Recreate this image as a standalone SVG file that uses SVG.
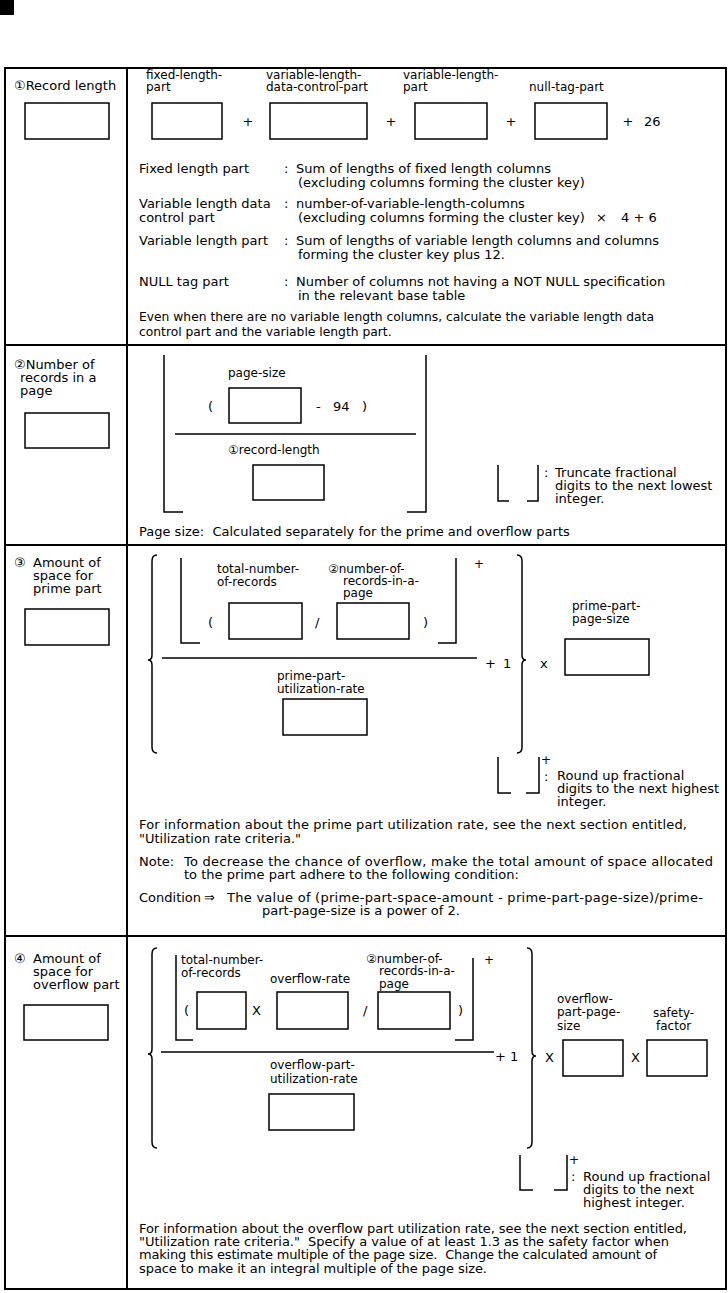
<svg xmlns="http://www.w3.org/2000/svg" width="728" height="1293" viewBox="0 0 728 1293">
<style>
text{font-family:"DejaVu Sans","Liberation Sans","Noto Sans CJK JP",sans-serif;font-size:13px;fill:#000;white-space:pre}
.s{font-size:12px}
.n{font-size:12.3px}
.bx{fill:none;stroke:#000;stroke-width:1.5}
.ln{fill:none;stroke:#000;stroke-width:1.5}
.fr{fill:none;stroke:#000;stroke-width:2}
</style>
<rect x="0" y="0" width="728" height="1293" fill="#fff"/>
<rect x="0" y="0" width="14" height="15" fill="#000"/>
<g id="table">
<rect class="fr" x="5" y="68" width="721" height="1221"/>
<line class="fr" x1="127" y1="68" x2="127" y2="1289"/>
<line class="fr" x1="5" y1="345" x2="726" y2="345"/>
<line class="fr" x1="5" y1="545" x2="726" y2="545"/>
<line class="fr" x1="5" y1="936" x2="726" y2="936"/>
</g>
<g id="sec1">
<text x="14" y="90">①Record length</text>
<rect class="bx" x="25" y="103" width="84" height="36"/>
<text class="s" x="146" y="79">fixed-length-</text>
<text class="s" x="146" y="91">part</text>
<text class="s" x="266" y="79">variable-length-</text>
<text class="s" x="266" y="91">data-control-part</text>
<text class="s" x="403" y="79">variable-length-</text>
<text class="s" x="403" y="91">part</text>
<text class="s" x="529" y="91">null-tag-part</text>
<rect class="bx" x="152" y="103" width="70" height="36"/>
<rect class="bx" x="270" y="103" width="97" height="36"/>
<rect class="bx" x="415" y="103" width="72" height="36"/>
<rect class="bx" x="535" y="103" width="72" height="36"/>
<text x="248" y="126" text-anchor="middle">+</text>
<text x="391" y="126" text-anchor="middle">+</text>
<text x="511" y="126" text-anchor="middle">+</text>
<text x="628" y="126" text-anchor="middle">+</text>
<text x="644" y="126">26</text>
<text x="139" y="173">Fixed length part</text>
<text x="284" y="173">:</text>
<text x="296" y="173">Sum of lengths of fixed length columns</text>
<text x="298" y="187">(excluding columns forming the cluster key)</text>
<text x="139" y="208">Variable length data</text>
<text x="139" y="222">control part</text>
<text x="284" y="208">:</text>
<text x="296" y="208">number-of-variable-length-columns</text>
<text x="298" y="222">(excluding columns forming the cluster key)</text>
<text x="596" y="222">×</text>
<text x="621" y="222">4 + 6</text>
<text x="139" y="245">Variable length part</text>
<text x="284" y="245">:</text>
<text x="296" y="245">Sum of lengths of variable length columns and columns</text>
<text x="298" y="259">forming the cluster key plus 12.</text>
<text x="139" y="286">NULL tag part</text>
<text x="284" y="286">:</text>
<text x="296" y="286">Number of columns not having a NOT NULL specification</text>
<text x="298" y="300">in the relevant base table</text>
<text class="n" x="139" y="321">Even when there are no variable length columns, calculate the variable length data</text>
<text class="n" x="139" y="336">control part and the variable length part.</text>
</g>
<g id="sec2">
<text x="14" y="369">②Number of</text>
<text x="20" y="382">records in a</text>
<text x="20" y="395">page</text>
<rect class="bx" x="25" y="413" width="84" height="35"/>
<path class="ln" d="M164,355 V512 H183"/>
<path class="ln" d="M407,512 H426 V355"/>
<text class="s" x="228" y="377">page-size</text>
<text x="208" y="411">(</text>
<rect class="bx" x="229" y="388" width="72" height="35"/>
<text x="316" y="411">-</text>
<text x="333" y="411">94</text>
<text x="362" y="411">)</text>
<line class="ln" x1="175" y1="434" x2="416" y2="434"/>
<text class="s" x="228" y="454">①record-length</text>
<rect class="bx" x="253" y="465" width="71" height="35"/>
<path class="ln" d="M498,465 V501 H509"/>
<path class="ln" d="M527,501 H538 V465"/>
<text x="544" y="477">:</text>
<text x="555" y="477">Truncate fractional</text>
<text x="555" y="490">digits to the next lowest</text>
<text x="555" y="503">integer.</text>
<text x="139" y="536">Page size:  Calculated separately for the prime and overflow parts</text>
</g>
<g id="sec3">
<text x="14" y="567">③</text>
<text x="33" y="567">Amount of</text>
<text x="33" y="580">space for</text>
<text x="33" y="593">prime part</text>
<rect class="bx" x="25" y="609" width="84" height="36"/>
<path class="ln" d="M157,555 Q152,555 152,561 V655 Q152,660 148,660 Q152,660 152,665 V747 Q152,753 157,753"/>
<path class="ln" d="M517,555 Q522,555 522,561 V655 Q522,660 526,660 Q522,660 522,665 V747 Q522,753 517,753"/>
<path class="ln" d="M181,558 V643 H200"/>
<path class="ln" d="M438,643 H456 V558"/>
<text class="s" x="474" y="568">+</text>
<text class="s" x="217" y="573">total-number-</text>
<text class="s" x="217" y="586">of-records</text>
<text class="s" x="328" y="573">②number-of-</text>
<text class="s" x="343" y="585">records-in-a-</text>
<text class="s" x="343" y="597">page</text>
<text x="208" y="627">(</text>
<rect class="bx" x="229" y="603" width="73" height="36"/>
<text x="315" y="627">/</text>
<rect class="bx" x="337" y="603" width="72" height="36"/>
<text x="423" y="627">)</text>
<line class="ln" x1="162" y1="658" x2="477" y2="658"/>
<text x="485" y="668">+</text>
<text x="503" y="668">1</text>
<text class="s" x="277" y="680">prime-part-</text>
<text class="s" x="277" y="693">utilization-rate</text>
<rect class="bx" x="283" y="699" width="84" height="36"/>
<text x="540" y="668">x</text>
<text class="s" x="572" y="610">prime-part-</text>
<text class="s" x="572" y="623">page-size</text>
<rect class="bx" x="565" y="639" width="84" height="36"/>
<path class="ln" d="M498,757 V793 H511"/>
<path class="ln" d="M526,793 H539 V757"/>
<text class="s" x="541" y="764">+</text>
<text x="544" y="781">:</text>
<text x="557" y="780">Round up fractional</text>
<text x="557" y="793" textLength="162">digits to the next highest</text>
<text x="557" y="806">integer.</text>
<text x="139" y="829" textLength="548">For information about the prime part utilization rate, see the next section entitled,</text>
<text x="139" y="843">"Utilization rate criteria."</text>
<text x="139" y="866">Note:</text>
<text x="184" y="866" textLength="529">To decrease the chance of overflow, make the total amount of space allocated</text>
<text x="184" y="879">to the prime part adhere to the following condition:</text>
<text x="139" y="902">Condition</text>
<text x="204" y="902">⇒</text>
<text x="227" y="902" textLength="476">The value of (prime-part-space-amount - prime-part-page-size)/prime-</text>
<text x="262" y="915">part-page-size is a power of 2.</text>
</g>
<g id="sec4">
<text x="14" y="963">④</text>
<text x="33" y="963">Amount of</text>
<text x="33" y="976">space for</text>
<text x="33" y="989">overflow part</text>
<rect class="bx" x="24" y="1005" width="84" height="35"/>
<path class="ln" d="M157,948 Q152,948 152,954 V1049 Q152,1054 148,1054 Q152,1054 152,1059 V1142 Q152,1148 157,1148"/>
<path class="ln" d="M527,948 Q532,948 532,954 V1051 Q532,1056 536,1056 Q532,1056 532,1061 V1142 Q532,1148 527,1148"/>
<path class="ln" d="M176,955 V1040 H193"/>
<path class="ln" d="M455,1040 H473 V958"/>
<text class="s" x="484" y="964">+</text>
<text class="s" x="181" y="964">total-number-</text>
<text class="s" x="181" y="977">of-records</text>
<text class="s" x="270" y="983">overflow-rate</text>
<text class="s" x="366" y="963">②number-of-</text>
<text class="s" x="379" y="975">records-in-a-</text>
<text class="s" x="379" y="988">page</text>
<text x="184" y="1015">(</text>
<rect class="bx" x="197" y="992" width="49" height="37"/>
<text x="252" y="1015">X</text>
<rect class="bx" x="277" y="992" width="71" height="37"/>
<text x="363" y="1015">/</text>
<rect class="bx" x="378" y="992" width="72" height="37"/>
<text x="458" y="1015">)</text>
<line class="ln" x1="161" y1="1052" x2="494" y2="1052"/>
<text x="495" y="1061">+</text>
<text x="510" y="1061">1</text>
<text class="s" x="270" y="1069">overflow-part-</text>
<text class="s" x="270" y="1083">utilization-rate</text>
<rect class="bx" x="269" y="1094" width="85" height="36"/>
<text x="545" y="1062">X</text>
<text class="s" x="557" y="1003">overflow-</text>
<text class="s" x="557" y="1016">part-page-</text>
<text class="s" x="557" y="1030">size</text>
<rect class="bx" x="563" y="1040" width="60" height="36"/>
<text x="631" y="1062">X</text>
<text class="s" x="653" y="1017">safety-</text>
<text class="s" x="656" y="1030">factor</text>
<rect class="bx" x="647" y="1040" width="60" height="36"/>
<path class="ln" d="M520,1155 V1190 H533"/>
<path class="ln" d="M554,1190 H567 V1155"/>
<text class="s" x="569" y="1164">+</text>
<text x="571" y="1181">:</text>
<text x="583" y="1181">Round up fractional</text>
<text x="583" y="1194">digits to the next</text>
<text x="583" y="1207">highest integer.</text>
<text x="139" y="1233" textLength="548">For information about the overflow part utilization rate, see the next section entitled,</text>
<text x="139" y="1246" textLength="530">"Utilization rate criteria."  Specify a value of at least 1.3 as the safety factor when</text>
<text x="139" y="1259" textLength="518">making this estimate multiple of the page size.  Change the calculated amount of</text>
<text x="139" y="1273" textLength="348">space to make it an integral multiple of the page size.</text>
</g>
</svg>
